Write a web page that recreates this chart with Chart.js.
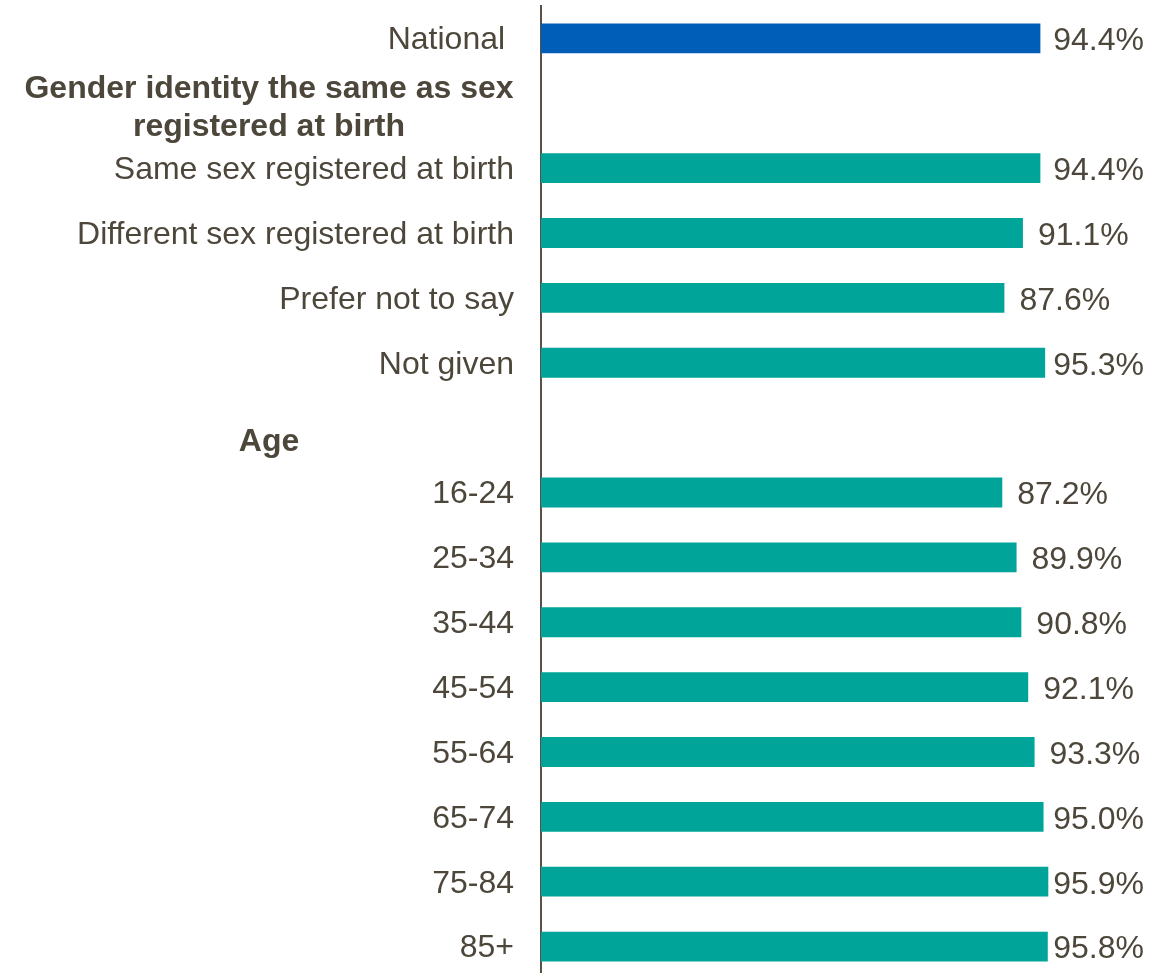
<!DOCTYPE html>
<html>
<head>
<meta charset="utf-8">
<script src="https://cdn.jsdelivr.net/npm/chart.js@4/dist/chart.umd.min.js"></script>
<style>
    html, body { margin: 0; padding: 0; background: #fff; overflow: hidden; }
    #wrap { position: relative; width: 1171px; height: 979px; }
</style>
</head>
<body>
<div id="wrap"><canvas id="myChart"></canvas></div>
<script>
const categories = [
    'National ',
    'Gender identity the same as sex registered at birth',
    'Same sex registered at birth',
    'Different sex registered at birth',
    'Prefer not to say',
    'Not given',
    'Age',
    '16-24', '25-34', '35-44', '45-54', '55-64', '65-74', '75-84', '85+'
];
const values = [94.4, null, 94.4, 91.1, 87.6, 95.3, null, 87.2, 89.9, 90.8, 92.1, 93.3, 95.0, 95.9, 95.8];
const headings = ['Gender identity the same as sex registered at birth', 'Age'];
const headingLines = [['Gender identity the same as sex', 'registered at birth'], ['Age']];

const textColor = '#4d473b';
const fontFamily = "'Liberation Sans', Arial, sans-serif";

// bold group headings, drawn in the label column
const headingPlugin = {
    id: 'headings',
    afterDraw(chart) {
        const ctx = chart.ctx;
        const y = chart.scales.y;
        const offsets = [[-14, 24], [15]];
        ctx.save();
        ctx.font = 'bold 32px ' + fontFamily;
        ctx.fillStyle = textColor;
        ctx.textAlign = 'center';
        ctx.textBaseline = 'middle';
        headings.forEach((h, i) => {
            const py = y.getPixelForValue(categories.indexOf(h));
            headingLines[i].forEach((line, j) => {
                ctx.fillText(line, 269, py + offsets[i][j]);
            });
        });
        ctx.restore();
    }
};

// value labels to the right of each bar, kept inside the right edge
const valuePlugin = {
    id: 'values',
    afterDatasetsDraw(chart) {
        const ctx = chart.ctx;
        const meta = chart.getDatasetMeta(0);
        const rightEdge = chart.width - 27;
        ctx.save();
        ctx.font = '32px ' + fontFamily;
        ctx.fillStyle = textColor;
        ctx.textAlign = 'left';
        ctx.textBaseline = 'middle';
        meta.data.forEach((bar, i) => {
            if (values[i] == null) return;
            const txt = values[i].toFixed(1) + '%';
            const w = ctx.measureText(txt).width;
            const x = Math.min(bar.x + 15, rightEdge - w);
            ctx.fillText(txt, x, bar.y + 3);
        });
        ctx.restore();
    }
};

const ctx = document.getElementById('myChart');

new Chart(ctx, {
    type: 'bar',
    data: {
        labels: categories,
        datasets: [{
            data: values,
            backgroundColor: categories.map((c, i) => i === 0 ? '#005eb8' : '#00a499'),
            borderWidth: 0,
            barPercentage: 0.46,
            categoryPercentage: 1
        }]
    },
    options: {
        indexAxis: 'y',
        responsive: true,
        maintainAspectRatio: false,
        animation: false,
        layout: { padding: { top: 6, right: 101, bottom: 0, left: 0 } },
        plugins: {
            legend: { display: false },
            tooltip: { enabled: false }
        },
        scales: {
            x: {
                display: false,
                min: 0,
                max: 100
            },
            y: {
                afterFit(scale) {
                    scale.width = 541;
                    scale.paddingTop = 0;
                    scale.paddingBottom = 0;
                },
                grid: { display: false, drawTicks: false },
                border: { display: true, color: '#595146', width: 2 },
                ticks: {
                    padding: 27,
                    labelOffset: 2,
                    color: textColor,
                    font: { family: fontFamily, size: 32 },
                    callback: function (v) {
                        const label = this.getLabelForValue(v);
                        return headings.includes(label) ? '' : label;
                    }
                }
            }
        }
    },
    plugins: [headingPlugin, valuePlugin]
});
</script>
</body>
</html>
